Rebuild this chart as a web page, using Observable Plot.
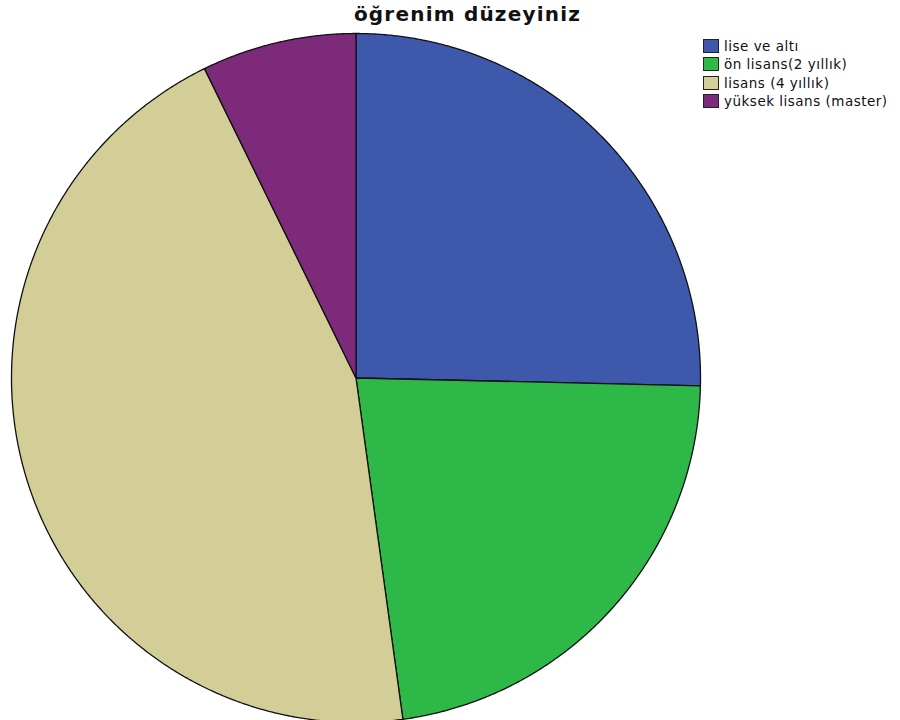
<!DOCTYPE html>
<html>
<head>
<meta charset="utf-8">
<script src="https://cdn.jsdelivr.net/npm/d3@7"></script>
<script src="https://cdn.jsdelivr.net/npm/@observablehq/plot@0.6"></script>
<style>
  html, body { margin: 0; padding: 0; background: #fff; }
  #wrap { position: relative; width: 900px; height: 720px; overflow: hidden; }
  #title {
    position: absolute; left: 0; top: 2px; width: 935px; text-align: center;
    font-family: "DejaVu Sans", sans-serif; font-weight: bold; font-size: 20px;
    letter-spacing: 1.2px; color: #111;
  }
  #legend {
    position: absolute; left: 703px; top: 37px;
    font-family: "DejaVu Sans", sans-serif; font-size: 13.5px; letter-spacing: 0.5px; color: #111;
  }
  .row { display: flex; align-items: center; height: 18.3px; }
  .sw { width: 14px; height: 12px; border: 1px solid #222; margin-right: 5px; box-sizing: content-box; }
</style>
</head>
<body>
<div id="wrap">
  <div id="title"></div>
  <div id="chart"></div>
  <div id="legend"></div>
</div>
<script>
const chartTitle = "öğrenim düzeyiniz";
const categories = ["lise ve altı", "ön lisans(2 yıllık)", "lisans (4 yıllık)", "yüksek lisans (master)"];
const counts = [35, 31, 62, 10];
const colors = ["#3e58ac", "#2eb848", "#d3ce97", "#7e2a7b"];

// Slice angles (clockwise from 12 o'clock, in data order)
const arcs = d3.pie().sort(null).value(d => d)(counts);

// Each slice becomes a closed polygon: centre, then points along its arc
const pts = [];
arcs.forEach((a, i) => {
  const cat = categories[i];
  pts.push({cat, x: 0, y: 0});
  const n = Math.max(2, Math.ceil((a.endAngle - a.startAngle) / 0.005));
  for (let k = 0; k <= n; k++) {
    const t = a.startAngle + (a.endAngle - a.startAngle) * k / n;
    pts.push({cat, x: Math.sin(t), y: Math.cos(t)});
  }
  pts.push({cat, x: 0, y: 0});
});

const chart = Plot.plot({
  width: 900,
  height: 720,
  margin: 0,
  x: {domain: [-1, 1], range: [11, 700], axis: null},
  y: {domain: [-1, 1], range: [722, 33], axis: null},
  color: {domain: categories, range: colors},
  marks: [
    Plot.line(pts, {
      x: "x", y: "y", z: "cat",
      fill: "cat", stroke: "#111", strokeWidth: 1.3,
      strokeLinejoin: "round", curve: "linear"
    })
  ]
});
document.getElementById("chart").appendChild(chart);

document.getElementById("title").textContent = chartTitle;
const legend = document.getElementById("legend");
categories.forEach((c, i) => {
  const row = document.createElement("div");
  row.className = "row";
  const sw = document.createElement("div");
  sw.className = "sw";
  sw.style.background = colors[i];
  const label = document.createElement("span");
  label.textContent = c;
  row.appendChild(sw);
  row.appendChild(label);
  legend.appendChild(row);
});
</script>
</body>
</html>
